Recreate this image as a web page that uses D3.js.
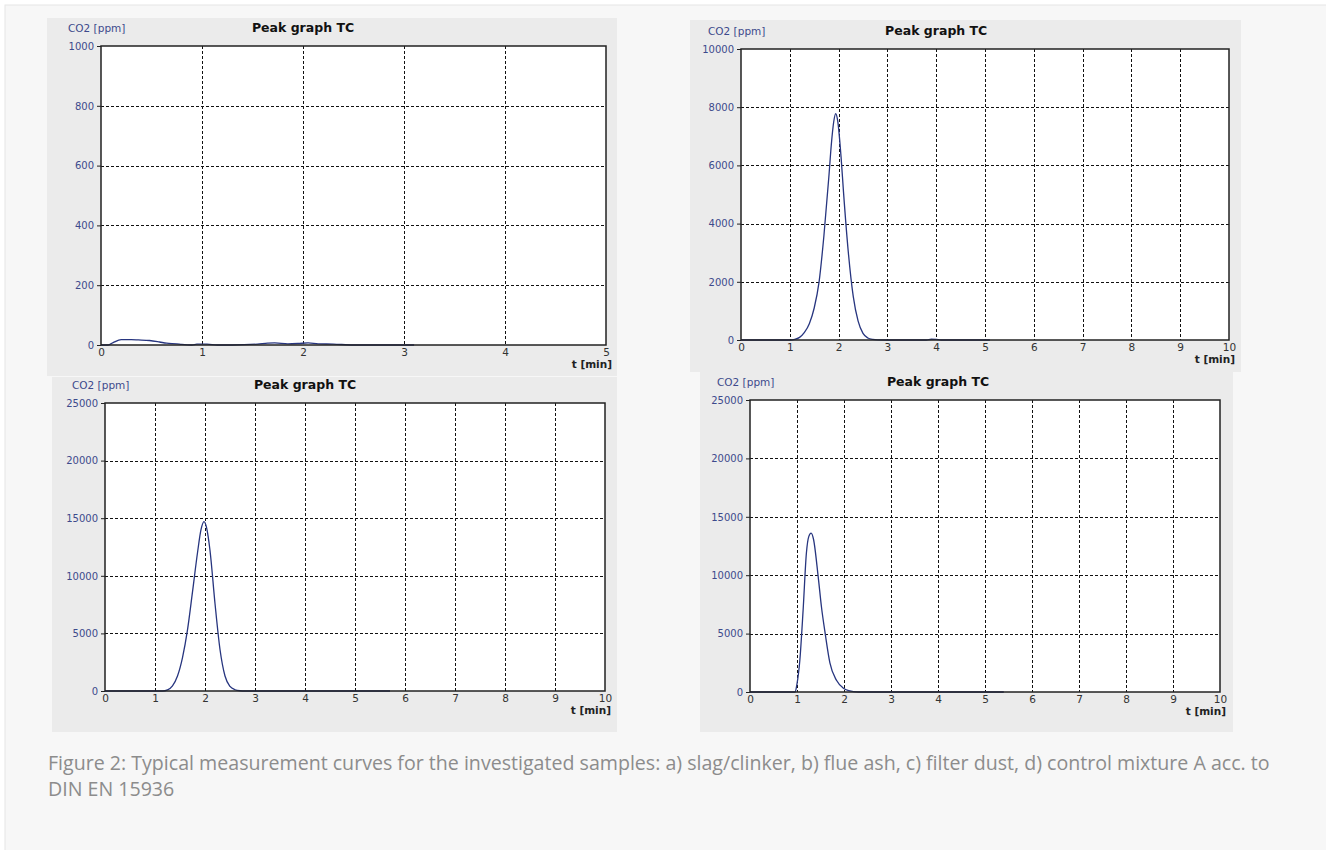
<!DOCTYPE html>
<html><head><meta charset="utf-8">
<script src="https://cdn.jsdelivr.net/npm/d3@7"></script>
<style>
html,body{margin:0;padding:0;background:#fff;}
svg{display:block;}
</style></head>
<body>
<svg id="chart" width="1326" height="850"></svg>
<script>
// ---------- DATA ----------
const chartTitle = "Peak graph TC";
const yAxisLabel = "CO2 [ppm]";
const xAxisLabel = "t [min]";

// a) slag/clinker
const aTime  = [0, 0.07, 0.12, 0.2, 0.3, 0.37, 0.48, 0.58, 0.65, 0.75, 0.8, 0.9, 0.95, 1.05, 1.15, 1.3, 1.55, 1.65, 1.72, 1.85, 1.95, 2.05, 2.15, 2.3, 2.5, 3.1];
const aValue = [0, 0, 8, 18, 18, 17, 15, 10, 6, 4, 2, 0, 3, 3, 0, 0, 3, 6, 7, 4, 5, 7, 4, 3, 0, 0];
const aXTicks = [0, 1, 2, 3, 4, 5];
const aYTicks = [0, 200, 400, 600, 800, 1000];

// b) flue ash
const bTime  = [0, 1.0, 1.1, 1.2, 1.3, 1.4, 1.5, 1.6, 1.7, 1.8, 1.85, 1.9, 1.94, 1.98, 2.05, 2.1, 2.2, 2.3, 2.4, 2.5, 2.6, 2.7, 2.8, 3.0, 3.8, 3.9, 4.0, 4.1, 5.1];
const bValue = [0, 0, 20, 90, 260, 560, 1100, 2000, 3600, 5600, 6700, 7500, 7780, 7550, 6300, 5100, 3000, 1500, 650, 230, 70, 20, 5, 0, 0, 25, 20, 0, 0];
const bXTicks = [0, 1, 2, 3, 4, 5, 6, 7, 8, 9, 10];
const bYTicks = [0, 2000, 4000, 6000, 8000, 10000];

// c) filter dust
const cTime  = [0, 1.15, 1.25, 1.35, 1.45, 1.55, 1.65, 1.75, 1.85, 1.92, 1.98, 2.03, 2.1, 2.2, 2.3, 2.4, 2.5, 2.6, 2.7, 2.8, 5.7];
const cValue = [0, 0, 100, 450, 1300, 2900, 5300, 8600, 12000, 14000, 14700, 14200, 12200, 7600, 3600, 1300, 400, 110, 20, 0, 0];
const cXTicks = [0, 1, 2, 3, 4, 5, 6, 7, 8, 9, 10];
const cYTicks = [0, 5000, 10000, 15000, 20000, 25000];

// d) control mixture A
const dTime  = [0, 0.96, 1.0, 1.06, 1.13, 1.2, 1.25, 1.3, 1.35, 1.45, 1.52, 1.6, 1.7, 1.84, 1.98, 2.1, 2.3, 5.4];
const dValue = [0, 0, 700, 2700, 7000, 11900, 13300, 13600, 13100, 9900, 7300, 5000, 2500, 1000, 350, 120, 0, 0];
const dXTicks = [0, 1, 2, 3, 4, 5, 6, 7, 8, 9, 10];
const dYTicks = [0, 5000, 10000, 15000, 20000, 25000];

const captionLines = [
  "Figure 2: Typical measurement curves for the investigated samples: a) slag/clinker, b) flue ash, c) filter dust, d) control mixture A acc. to",
  "DIN EN 15936"
];

// ---------- LAYOUT ----------
const panels = [
  {t:aTime, v:aValue, xt:aXTicks, yt:aYTicks, bg:[47,18,570,358], plot:[101,46,606,345]},
  {t:bTime, v:bValue, xt:bXTicks, yt:bYTicks, bg:[690,20,551,352], plot:[741,49,1229,340]},
  {t:cTime, v:cValue, xt:cXTicks, yt:cYTicks, bg:[52,377,565,355], plot:[105,403,605,691]},
  {t:dTime, v:dValue, xt:dXTicks, yt:dYTicks, bg:[700,370,533,362], plot:[750,400,1220,692]}
];

const svg = d3.select("#chart");
svg.append("rect").attr("x",5).attr("y",5).attr("width",1330).attr("height",850)
  .attr("fill","#f7f7f7").attr("stroke","#e6e6e6");

const lineColor = "#27357f";
const labelColor = "#3d4a8c";
const fontUI = "'DejaVu Sans', Verdana, sans-serif";

panels.forEach(p => {
  const [x0,y0,x1,y1] = p.plot;
  const g = svg.append("g");
  g.append("rect").attr("x",p.bg[0]).attr("y",p.bg[1]).attr("width",p.bg[2]).attr("height",p.bg[3])
    .attr("fill","#ebebeb");
  const x = d3.scaleLinear().domain([p.xt[0], p.xt[p.xt.length-1]]).range([x0,x1]);
  const y = d3.scaleLinear().domain([p.yt[0], p.yt[p.yt.length-1]]).range([y1,y0]);
  g.append("rect").attr("x",x0).attr("y",y0).attr("width",x1-x0).attr("height",y1-y0).attr("fill","#fff");

  // grid
  g.selectAll(".vg").data(p.xt.slice(1,-1)).enter().append("line")
    .attr("x1",d=>Math.round(x(d))+0.5).attr("x2",d=>Math.round(x(d))+0.5).attr("y1",y0).attr("y2",y1)
    .attr("stroke","#111").attr("stroke-width",1).attr("stroke-dasharray","3,2");
  g.selectAll(".hg").data(p.yt.slice(1,-1)).enter().append("line")
    .attr("y1",d=>Math.round(y(d))+0.5).attr("y2",d=>Math.round(y(d))+0.5).attr("x1",x0).attr("x2",x1)
    .attr("stroke","#111").attr("stroke-width",1).attr("stroke-dasharray","3,2");

  // curve
  const pts = p.t.map((t,i)=>[t,p.v[i]]);
  g.append("path").datum(pts)
    .attr("d", d3.line().x(d=>x(d[0])).y(d=>y(d[1])).curve(d3.curveMonotoneX))
    .attr("fill","none").attr("stroke",lineColor).attr("stroke-width",1.3);

  // frame
  g.append("rect").attr("x",x0).attr("y",y0).attr("width",x1-x0).attr("height",y1-y0)
    .attr("fill","none").attr("stroke","#222").attr("stroke-width",1.5);

  // y axis
  const ya = d3.axisLeft(y).tickValues(p.yt).tickSize(4).tickPadding(3).tickFormat(d3.format("d"));
  const yg = g.append("g").attr("transform",`translate(${x0},0)`).call(ya);
  yg.select(".domain").remove();
  yg.selectAll("line").attr("stroke","#222");
  yg.selectAll("text").attr("fill",labelColor).style("font-family",fontUI).style("font-size","10px");

  // x axis
  const xa = d3.axisBottom(x).tickValues(p.xt).tickSize(0).tickPadding(4).tickFormat(d3.format("d"));
  const xg = g.append("g").attr("transform",`translate(0,${y1})`).call(xa);
  xg.select(".domain").remove();
  xg.selectAll("text").attr("fill","#333").style("font-family",fontUI).style("font-size","10.5px");

  // labels
  g.append("text").attr("x",x0-33).attr("y",y0-14).text(yAxisLabel)
    .attr("fill",labelColor).style("font-family",fontUI).style("font-size","10.5px");
  g.append("text").attr("x",x0+0.4*(x1-x0)).attr("y",y0-14).attr("text-anchor","middle").text(chartTitle)
    .attr("fill","#111").style("font-family",fontUI).style("font-size","12.5px").style("font-weight","bold");
  g.append("text").attr("x",x1+6).attr("y",y1+23).attr("text-anchor","end").text(xAxisLabel)
    .attr("fill","#222").style("font-family",fontUI).style("font-size","10.5px").style("font-weight","bold");
});

svg.selectAll(".cap").data(captionLines).enter().append("text")
  .attr("x",48).attr("y",(d,i)=>770+i*26).text(d=>d)
  .attr("fill","#8c8c8c").style("font-family","'Open Sans', sans-serif").style("font-size","19.6px");
</script>
</body></html>
